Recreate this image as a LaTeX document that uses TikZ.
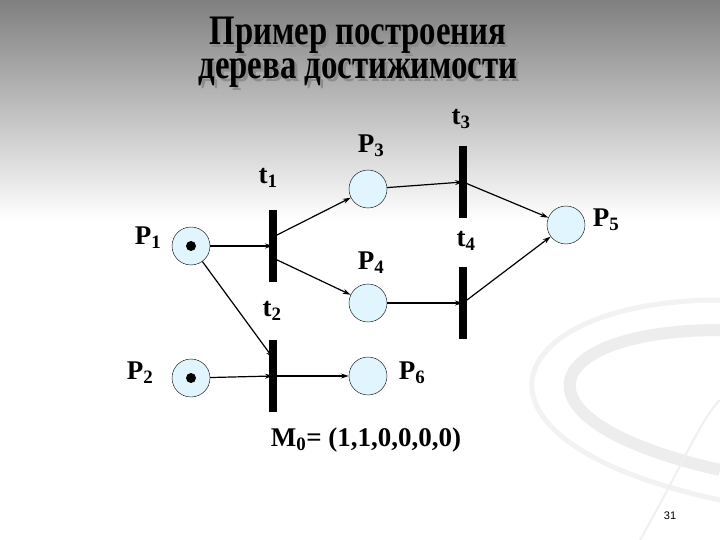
\documentclass[tikz,border=0pt]{standalone}
\usepackage{fontspec}
\setmainfont{Liberation Serif}[BoldFont={Liberation Serif Bold}]
\newfontfamily\sans{Liberation Sans}
\usetikzlibrary{arrows.meta}
\newcommand{\ttlbox}[1]{\scalebox{0.78}[1]{\bfseries\fontsize{42}{42}\selectfont #1}}
\begin{document}
\begin{tikzpicture}[x=1pt,y=-1pt,
  place/.style={circle,draw,fill=cyan!12!white,minimum size=38pt,inner sep=0pt},
  bar/.style={fill=black,minimum width=8pt,inner sep=0pt},
  arc/.style={draw,line width=1.2pt,-{Stealth[length=8pt,width=5pt]}},
  lab/.style={font=\bfseries\fontsize{27}{29}\selectfont},
  tok/.style={circle,fill=black,minimum size=10pt,inner sep=0pt}]
\useasboundingbox (0,0) rectangle (720,540);
\shade[top color=black!50,bottom color=white] (0,0) rectangle (720,220);
\fill[white] (0,220) rectangle (720,540);
\draw[black!7,line width=12pt] (720,330) .. controls (540,330) and (500,420) .. (720,470);
\draw[black!5,line width=5pt] (720,300) .. controls (500,300) and (440,440) .. (720,500);
\draw[black!6,line width=2pt] (640,540) .. controls (680,470) and (700,420) .. (720,400);
\node[text=black!45] (tsh1) at (361,38) {\ttlbox{Пример построения}};
\node[text=black!45] (tsh2) at (361,76) {\ttlbox{дерева достижимости}};
\node (ti1) at (358,35) {\ttlbox{Пример построения}};
\node (ti2) at (358,73) {\ttlbox{дерева достижимости}};
\node[place] (p1) at (191,246) {}; \node[tok] (k1) at (p1) {};
\node[place] (p2) at (191,378) {}; \node[tok] (k2) at (p2) {};
\node[place] (p3) at (368,189) {};
\node[place] (p4) at (368,303) {};
\node[place] (p6) at (368,376) {};
\node[place] (p5) at (566,225) {};
\node[bar,minimum height=72pt] (t1) at (273,246) {};
\node[bar,minimum height=72pt] (t2) at (273,376) {};
\node[bar,minimum height=72pt] (t3) at (463,182) {};
\node[bar,minimum height=72pt] (t4) at (463,303) {};
\coordinate (t1a) at (273,237); \coordinate (t1b) at (273,258);
\coordinate (t2a) at (273,358);
\draw[arc] (p1) -- (t1.center);
\draw[arc] (t1a) -- (p3);
\draw[arc] (t1b) -- (p4);
\draw[arc] (p1) -- (t2a);
\draw[arc] (p2) -- (t2.center);
\draw[arc] (t2.center) -- (p6);
\draw[arc] (p3) -- (t3.center);
\draw[arc] (p4) -- (t4.center);
\draw[arc] (t3.center) -- (p5);
\draw[arc] (t4.center) -- (p5);
\node[lab] (lt1) at (268,178) {t\textsubscript{1}};
\node[lab] (lt2) at (272,311) {t\textsubscript{2}};
\node[lab] (lt3) at (461,119) {t\textsubscript{3}};
\node[lab] (lt4) at (466,241) {t\textsubscript{4}};
\node[lab] (lp1) at (148,238) {P\textsubscript{1}};
\node[lab] (lp2) at (140,373) {P\textsubscript{2}};
\node[lab] (lp3) at (371,146) {P\textsubscript{3}};
\node[lab] (lp4) at (371,263) {P\textsubscript{4}};
\node[lab] (lp5) at (606,220) {P\textsubscript{5}};
\node[lab] (lp6) at (412,373) {P\textsubscript{6}};
\node[lab] (m0) at (366,440) {M\textsubscript{0}= (1,1,0,0,0,0)};
\node[font=\sans\fontsize{11}{12}\selectfont] (pg) at (670,516) {31};
\end{tikzpicture}
\end{document}
